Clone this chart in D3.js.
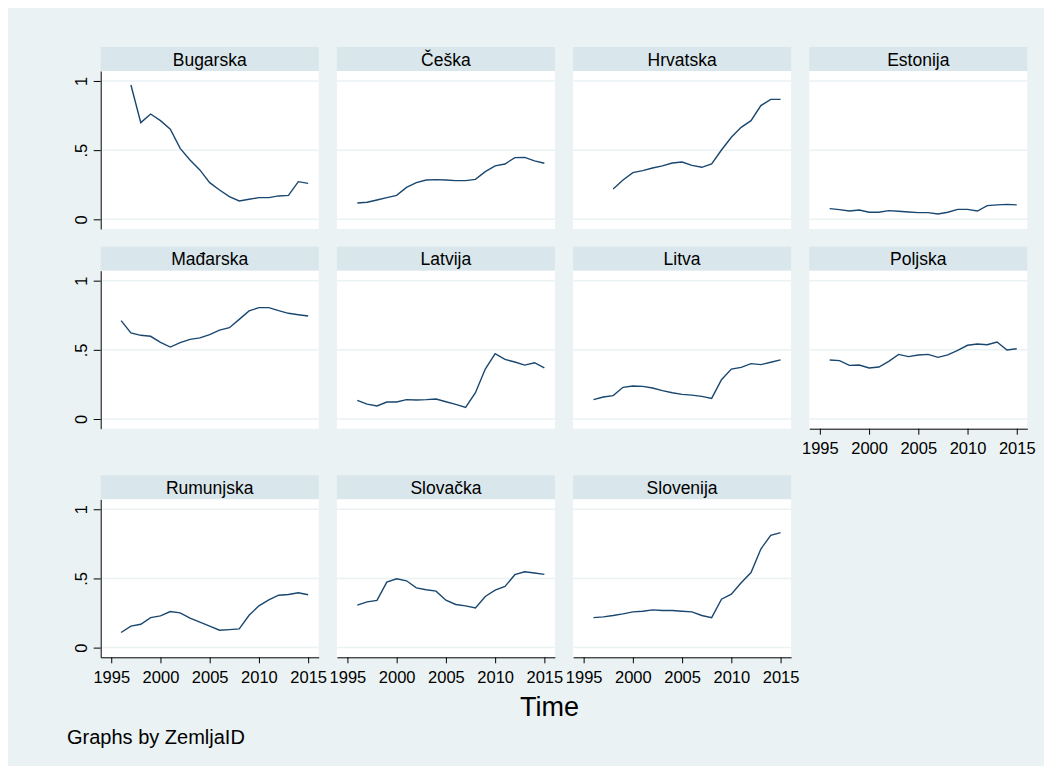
<!DOCTYPE html>
<meta charset="utf-8">
<style>
body { margin: 0; background: #fff; }
text { font-family: "Liberation Sans", Arial, sans-serif; fill: #000; }
.bg { fill: #eaf2f3; }
.strip { fill: #d9e6eb; }
.plot { fill: #fff; }
.grid { stroke: #eaf2f3; stroke-width: 1.5px; }
.line { fill: none; stroke: #1a476f; stroke-width: 1.4px; }
.axis path, .axis line { stroke: #000; stroke-width: 1px; }
.axis text { font-size: 16.5px; font-family: "Liberation Sans", Arial, sans-serif; }
</style>
<body>
<script src="https://d3js.org/d3.v7.min.js"></script>
<script>

// years on the x axis
var years = [1996, 1997, 1998, 1999, 2000, 2001, 2002, 2003, 2004, 2005,
             2006, 2007, 2008, 2009, 2010, 2011, 2012, 2013, 2014, 2015];

var countries = ["Bugarska", "Češka", "Hrvatska", "Estonija", "Mađarska", "Latvija",
                 "Litva", "Poljska", "Rumunjska", "Slovačka", "Slovenija"];

var xTicks = [1995, 2000, 2005, 2010, 2015];
var yTicks = [0, 0.5, 1];
var yTickLabels = ["0", ".5", "1"];

// values, null = no data
var bugarska  = [null, 0.971, 0.699, 0.761, 0.713, 0.651, 0.513, 0.429, 0.357, 0.265, 0.212, 0.164, 0.133, 0.145, 0.157, 0.157, 0.169, 0.173, 0.272, 0.260];
var ceska     = [0.118, 0.123, 0.140, 0.157, 0.173, 0.231, 0.265, 0.284, 0.287, 0.284, 0.280, 0.280, 0.289, 0.345, 0.386, 0.400, 0.446, 0.448, 0.422, 0.405];
var hrvatska  = [null, null, 0.219, 0.284, 0.337, 0.352, 0.371, 0.386, 0.407, 0.414, 0.390, 0.376, 0.400, 0.501, 0.593, 0.665, 0.713, 0.822, 0.867, 0.867];
var estonija  = [0.077, 0.070, 0.060, 0.067, 0.051, 0.051, 0.063, 0.058, 0.053, 0.048, 0.048, 0.039, 0.051, 0.072, 0.072, 0.060, 0.099, 0.104, 0.108, 0.104];
var madjarska = [0.711, 0.622, 0.605, 0.598, 0.554, 0.520, 0.552, 0.576, 0.586, 0.610, 0.643, 0.660, 0.720, 0.781, 0.805, 0.805, 0.783, 0.764, 0.754, 0.745];
var latvija   = [0.135, 0.108, 0.094, 0.123, 0.123, 0.140, 0.137, 0.140, 0.145, 0.125, 0.106, 0.084, 0.190, 0.361, 0.472, 0.431, 0.412, 0.390, 0.407, 0.369];
var litva     = [0.140, 0.159, 0.169, 0.229, 0.239, 0.236, 0.224, 0.205, 0.190, 0.178, 0.173, 0.164, 0.149, 0.284, 0.361, 0.373, 0.400, 0.393, 0.410, 0.427];
var poljska   = [0.427, 0.422, 0.388, 0.390, 0.369, 0.376, 0.417, 0.467, 0.451, 0.463, 0.467, 0.446, 0.463, 0.496, 0.533, 0.542, 0.537, 0.557, 0.499, 0.508];
var rumunjska = [0.109, 0.155, 0.169, 0.217, 0.229, 0.261, 0.251, 0.213, 0.184, 0.155, 0.126, 0.130, 0.135, 0.234, 0.302, 0.345, 0.379, 0.384, 0.396, 0.382];
var slovacka  = [0.307, 0.331, 0.341, 0.473, 0.498, 0.483, 0.432, 0.418, 0.408, 0.343, 0.312, 0.302, 0.287, 0.370, 0.415, 0.442, 0.527, 0.548, 0.539, 0.529];
var slovenija = [0.217, 0.222, 0.232, 0.244, 0.258, 0.263, 0.273, 0.268, 0.268, 0.263, 0.258, 0.232, 0.217, 0.350, 0.386, 0.469, 0.543, 0.713, 0.812, 0.831];

var series = [bugarska, ceska, hrvatska, estonija, madjarska, latvija,
              litva, poljska, rumunjska, slovacka, slovenija];

// layout
var W = 1052, H = 774;
var colLeft = 100.7, colStep = 236.2, pw = 218, ph = 158, stripH = 24;
var rowTop = [71, 270.7, 499.3];   // top of each row's plot region

var svg = d3.select("body").append("svg")
    .attr("width", W)
    .attr("height", H);

svg.append("rect").attr("class", "bg")
    .attr("x", 8).attr("y", 8).attr("width", 1036).attr("height", 758);

var x = d3.scaleLinear().domain([1993.93, 2016.07]).range([0, pw]);
var y = d3.scaleLinear().domain([-0.07, 1.072]).range([ph, 0]);

var line = d3.line()
    .defined(function(d) { return d.v != null; })
    .x(function(d) { return x(d.year); })
    .y(function(d) { return y(d.v); });

countries.forEach(function(name, i) {
  var row = Math.floor(i / 4), col = i % 4;
  var g = svg.append("g")
      .attr("transform", "translate(" + (colLeft + col * colStep) + "," + rowTop[row] + ")");

  // strip with the panel name
  g.append("rect").attr("class", "strip")
      .attr("x", 0).attr("y", -stripH).attr("width", pw).attr("height", stripH);
  g.append("text")
      .attr("x", pw / 2).attr("y", -5.5)
      .attr("text-anchor", "middle")
      .style("font-size", "17.5px")
      .text(name);

  g.append("rect").attr("class", "plot")
      .attr("width", pw).attr("height", ph);

  g.selectAll(".grid").data(yTicks).enter().append("line")
      .attr("class", "grid")
      .attr("x1", 0).attr("x2", pw)
      .attr("y1", function(d) { return y(d); })
      .attr("y2", function(d) { return y(d); });

  var data = years.map(function(yr, j) { return {year: yr, v: series[i][j]}; });
  g.append("path").datum(data).attr("class", "line").attr("d", line);

  // y axis only in the first column
  if (col === 0) {
    var ya = g.append("g").attr("class", "axis")
        .call(d3.axisLeft(y).tickValues(yTicks).tickSize(7).tickSizeOuter(0)
              .tickFormat(function(d, k) { return yTickLabels[k]; }));
    ya.selectAll("text")
        .attr("transform", "rotate(-90)")
        .attr("x", 0).attr("y", -14).attr("dy", 0)
        .attr("text-anchor", "middle");
  }

  // x axis on the lowest panel of each column
  if (row === 2 || (row === 1 && col === 3)) {
    g.append("g").attr("class", "axis")
        .attr("transform", "translate(0," + ph + ")")
        .call(d3.axisBottom(x).tickValues(xTicks).tickSize(6).tickPadding(8)
              .tickSizeOuter(0).tickFormat(d3.format("d")));
  }
});

svg.append("text")
    .attr("x", 549.5).attr("y", 716)
    .attr("text-anchor", "middle")
    .style("font-size", "27px")
    .text("Time");

svg.append("text")
    .attr("x", 67).attr("y", 744)
    .style("font-size", "20px")
    .text("Graphs by ZemljaID");

</script>
</body>
